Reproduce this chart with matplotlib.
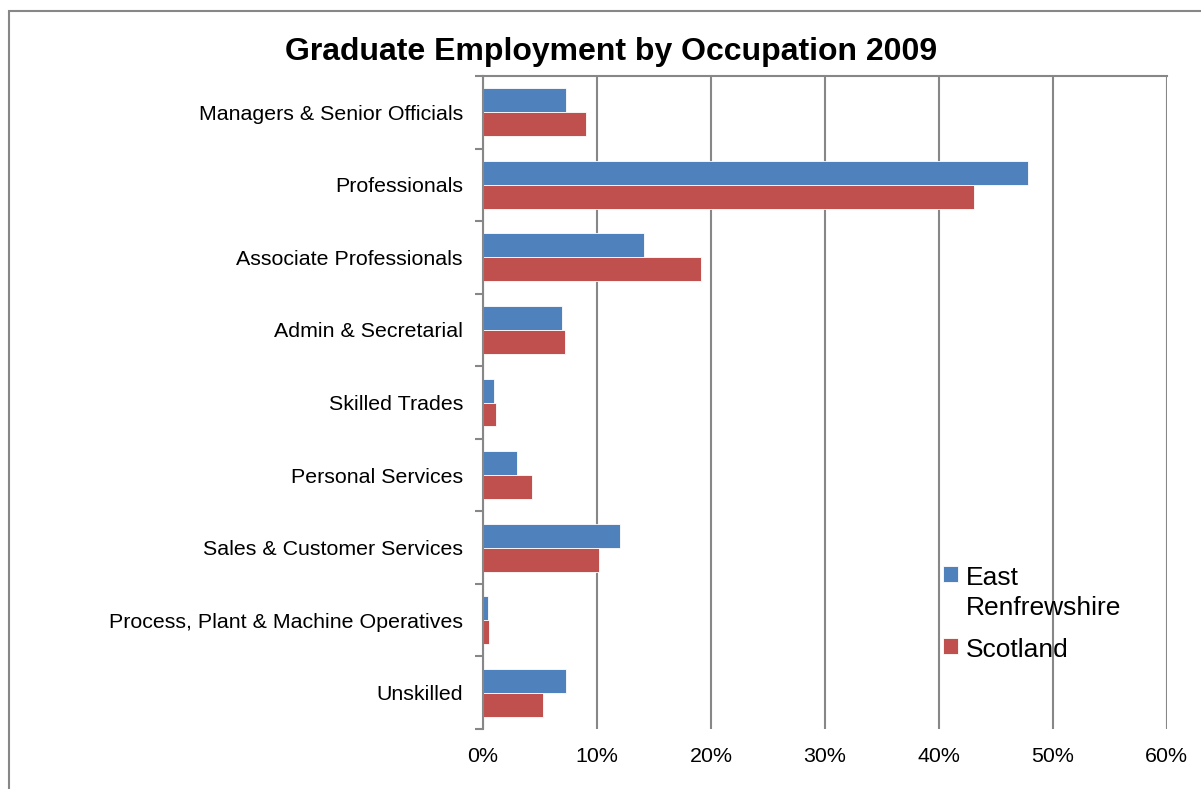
import matplotlib
matplotlib.use("Agg")
import matplotlib.pyplot as plt
from matplotlib.patches import Rectangle
from matplotlib.legend_handler import HandlerPatch
from matplotlib.ticker import FuncFormatter
import numpy as np

plt.rcParams['font.family'] = ['Liberation Sans', 'DejaVu Sans']

# occupations, top to bottom as in the chart
occupations = ["Managers & Senior Officials", "Professionals", "Associate Professionals",
               "Admin & Secretarial", "Skilled Trades", "Personal Services",
               "Sales & Customer Services", "Process, Plant & Machine Operatives", "Unskilled"]
east_renfrewshire = [7.3, 47.8, 14.1, 6.9, 1.0, 3.0, 12.0, 0.4, 7.3]
scotland = [9.0, 43.1, 19.1, 7.2, 1.1, 4.3, 10.2, 0.5, 5.3]
series_names = ["East\nRenfrewshire", "Scotland"]
x_ticks = [0, 10, 20, 30, 40, 50, 60]

blue = "#4F81BD"
red = "#C0504D"
grey = "#878787"

fig = plt.figure(figsize=(12.01, 7.89), dpi=100)
ax = fig.add_axes([483/1201, 60/789, (1166.7-483)/1201, (729-76)/789])

n = len(occupations)
pos = np.arange(n)
h = 0.33
ax.barh(pos - h/2, east_renfrewshire, height=h, color=blue, edgecolor="white",
        linewidth=0.6, label=series_names[0], zorder=3)
ax.barh(pos + h/2, scotland, height=h, color=red, edgecolor="white",
        linewidth=0.6, label=series_names[1], zorder=3)

ax.set_ylim(n - 0.5, -0.5)
ax.set_xlim(0, 60)
ax.set_xticks(x_ticks)
ax.xaxis.set_major_formatter(FuncFormatter(lambda v, p: f"{v:.0f}%"))
ax.set_yticks(pos)
ax.set_yticklabels(occupations)
ax.set_yticks(np.arange(-0.5, n, 1), minor=True)

ax.tick_params(axis='y', which='major', length=0, pad=14.4, labelsize=15.4)
ax.tick_params(axis='y', which='minor', length=6, width=1.5, color=grey, direction='out')
ax.tick_params(axis='x', length=0, pad=13, labelsize=15.4)

ax.grid(axis='x', color=grey, linewidth=1.5, zorder=0)
for s in ['bottom', 'right']:
    ax.spines[s].set_visible(False)
for s in ['left', 'top']:
    ax.spines[s].set_color(grey)
    ax.spines[s].set_linewidth(1.5)
ax.spines['left'].set_zorder(4)

fig.text(611/1201, (789-52)/789, "Graduate Employment by Occupation 2009", fontsize=23,
         fontweight='bold', ha='center', va='center')


def low_square(legend, orig_handle, xdescent, ydescent, width, height, fontsize):
    # nudge the square down a little so it sits on the first text line
    return Rectangle((-xdescent, -ydescent - 3), width, height)


leg = ax.legend(loc='upper left', bbox_to_anchor=(0.673, 0.249), frameon=False,
                fontsize=19, handlelength=0.55, handleheight=0.55, handletextpad=0.3,
                labelspacing=0.68, borderaxespad=0, borderpad=0,
                handler_map={Rectangle: HandlerPatch(patch_func=low_square)})
for t in leg.get_texts():
    t.set_linespacing(1.3)
# put the colour square next to the first line of a wrapped label
for col in leg._legend_handle_box.get_children():
    for row in col.get_children():
        row.align = 'top'

# outer chart border (only left and top visible in the picture)
fig.patches.append(Rectangle((9/1201, -0.1), 2, (789-11)/789 + 0.1,
                             transform=fig.transFigure, fill=False,
                             edgecolor=grey, linewidth=1.5))

fig.savefig("out.png", dpi=100, facecolor="white")
